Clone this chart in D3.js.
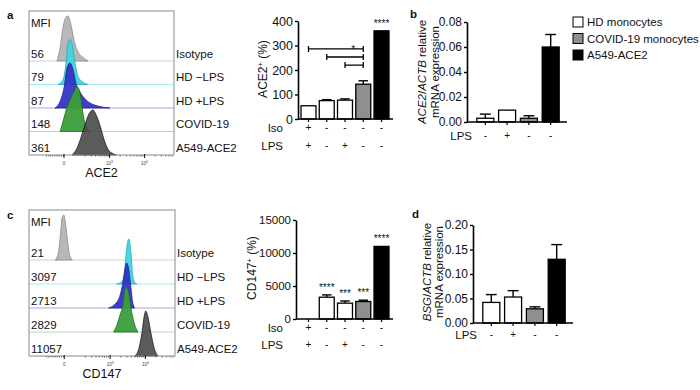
<!DOCTYPE html>
<html>
<head>
<meta charset="utf-8">
<script src="https://cdn.jsdelivr.net/npm/d3@7"></script>
<style>
  body { margin: 0; background: #fff; }
  svg { display: block; font-family: "Liberation Sans", Arial, sans-serif; }
</style>
</head>
<body>
<svg id="fig" width="700" height="390"></svg>
<script>
/* ---- data ---- */
const rowNames = ["Isotype", "HD \u2212LPS", "HD +LPS", "COVID-19", "A549-ACE2"];
const mfiACE2 = ["56", "79", "87", "148", "361"];
const mfiCD147 = ["21", "3097", "2713", "2829", "11057"];

// flow histograms: [display position, % of mode]; 0 / 10^3 / 10^4 at 0 / 1.3 / 2.3
const histDomain = [-1, 3.14];
const histTickVals = [0, 1.3, 2.3];
const histTickExp = ["", "3", "4"];

const ace2Iso   = [[-0.20,0],[-0.11,30],[-0.03,75],[0.06,98],[0.11,100],[0.20,80],[0.29,45],[0.40,20],[0.54,8],[0.69,0]];
const ace2HdNeg = [[-0.17,0],[-0.03,10],[0.06,50],[0.11,90],[0.17,100],[0.23,90],[0.29,60],[0.37,25],[0.49,8],[0.69,0]];
const ace2HdPos = [[-0.26,0],[-0.11,15],[0,45],[0.09,90],[0.17,100],[0.26,85],[0.34,55],[0.46,35],[0.63,18],[0.89,6],[1.31,0]];
const ace2Covid = [[-0.11,0],[-0.03,22],[0.09,55],[0.17,70],[0.29,90],[0.37,100],[0.46,85],[0.54,40],[0.63,10],[0.74,0]];
const ace2A549  = [[0.23,0],[0.37,15],[0.51,45],[0.63,75],[0.74,95],[0.83,100],[0.91,90],[1.03,65],[1.14,35],[1.26,12],[1.40,3],[1.49,0]];

const cd147Iso   = [[-0.26,0],[-0.17,15],[-0.11,55],[-0.06,95],[-0.01,100],[0.03,85],[0.09,45],[0.14,15],[0.23,0]];
const cd147HdNeg = [[1.49,0],[1.60,3],[1.69,15],[1.74,55],[1.80,95],[1.83,100],[1.89,70],[1.94,20],[2.00,3],[2.06,0]];
const cd147HdPos = [[1.26,0],[1.43,8],[1.57,25],[1.66,55],[1.73,90],[1.77,100],[1.83,85],[1.89,45],[1.94,12],[2.00,0]];
const cd147Covid = [[1.40,0],[1.49,15],[1.57,35],[1.66,60],[1.71,90],[1.77,100],[1.83,85],[1.91,45],[2.00,15],[2.09,0]];
const cd147A549  = [[2.00,0],[2.11,15],[2.20,50],[2.27,90],[2.31,100],[2.37,88],[2.46,50],[2.54,20],[2.66,0]];

// bar charts
const isoSigns5 = ["+", "-", "-", "-", "-"];
const lpsSigns5 = ["+", "-", "+", "-", "-"];
const lpsSigns4 = ["-", "+", "-", "-"];
const groups5 = ["hd", "hd", "hd", "covid", "a549"];
const groups4 = ["hd", "hd", "covid", "a549"];

const ace2Pct = [54, 75, 77, 142, 360];
const ace2PctSem = [0, 4, 5, 14, 0];
const ace2PctSig = ["", "", "", "", "****"];
const bracketFrom = [0, 1, 2];
const bracketTo = [3, 3, 3];
const bracketLevel = [286, 253, 220];
const bracketLabel = ["*", "", ""];

const cd147Pct = [0, 3300, 2400, 2650, 11000];
const cd147PctSem = [0, 350, 330, 200, 0];
const cd147PctSig = ["", "****", "***", "***", "****"];

const ace2mRNA = [0.003, 0.0095, 0.003, 0.060];
const ace2mRNASem = [0.0033, 0, 0.002, 0.010];
const bsgmRNA = [0.042, 0.053, 0.029, 0.130];
const bsgmRNASem = [0.016, 0.013, 0.004, 0.030];

const legendNames = ["HD monocytes", "COVID-19 monocytes", "A549-ACE2"];
const legendGroups = ["hd", "covid", "a549"];

/* ---- style ---- */
const FONT = '"Liberation Sans", Arial, sans-serif';
const histFill = ["#b4b4b4", "#3fd6df", "#3434c4", "#3a9e3a", "#444444"];
const histStroke = ["#8c8c8c", "#22a9b6", "#1f1f8f", "#1f6b1f", "#1e1e1e"];
const histLine = ["#d2d2d2", "#a6ecf0", "#a9a9dc", "#b4dcb4"];
const groupFill = { hd: "#ffffff", covid: "#8f8f8f", a549: "#000000" };

const svg = d3.select("#fig");

function txt(g, x, y, s, size, anchor) {
  return g.append("text").attr("x", x).attr("y", y).attr("font-size", size)
    .attr("font-family", FONT).attr("text-anchor", anchor || "start").attr("fill", "#111").text(s);
}

/* 流式直方圖 */
function histPanel(o) {
  const g = svg.append("g");
  const x = d3.scaleLinear().domain(histDomain).range([o.x0, o.x1]);
  const n = o.curves.length, step = (o.y1 - o.y0 - 50) / (n - 1);
  const h = d3.scaleLinear().domain([0, 100]).range([0, 45]);
  const area = d3.area().x(d => x(d[0])).y0(0).y1(d => -h(d[1])).curve(d3.curveMonotoneX);

  g.append("rect").attr("x", o.x0).attr("y", o.y0).attr("width", o.x1 - o.x0).attr("height", o.y1 - o.y0)
    .attr("fill", "#fff");
  txt(g, o.x0 + 2, o.y0 + 16, "MFI", 11.5);
  o.curves.forEach((pts, i) => {
    const by = o.y1 - (n - 1 - i) * step;
    const row = g.append("g").attr("transform", `translate(0,${by})`);
    if (i < n - 1) row.append("line").attr("x1", o.x0).attr("x2", o.x1)
      .attr("stroke", histLine[i]).attr("stroke-width", 1);
    row.append("path").attr("d", area(pts)).attr("fill", histFill[i])
      .attr("fill-opacity", i === n - 1 ? 0.88 : 0.95)
      .attr("stroke", histStroke[i]).attr("stroke-width", 0.8);
    txt(g, o.x0 + 2, by - 3.5, o.mfi[i], 11.5);
    txt(g, o.x1 + 2, by - 3.5, rowNames[i], 11.5);
  });
  g.append("rect").attr("x", o.x0).attr("y", o.y0).attr("width", o.x1 - o.x0).attr("height", o.y1 - o.y0)
    .attr("fill", "none").attr("stroke", "#8a8a8a");

  // 底部刻度
  const minor = [];
  for (let v = -0.5; v < 0; v += 0.06) minor.push(v);
  for (let k = 2; k <= 9; k++) minor.push(0.3 + Math.log10(k), 1.3 + Math.log10(k), 2.3 + Math.log10(k));
  g.append("g").selectAll("line").data(minor.filter(v => v > histDomain[0] && v < histDomain[1])).join("line")
    .attr("x1", d => x(d)).attr("x2", d => x(d)).attr("y1", o.y1).attr("y2", o.y1 + 1.6)
    .attr("stroke", "#333").attr("stroke-width", 0.6);
  g.append("g").selectAll("line").data(histTickVals).join("line")
    .attr("x1", d => x(d)).attr("x2", d => x(d)).attr("y1", o.y1 - 1).attr("y2", o.y1 + 3)
    .attr("stroke", "#111").attr("stroke-width", 1);
  histTickVals.forEach((v, i) => {
    const t = txt(g, x(v), o.y1 + 10, i === 0 ? "0" : "10", 4.5, "middle").attr("fill", "#444");
    if (histTickExp[i]) t.append("tspan").attr("dy", -1.8).attr("font-size", 3.5).text(histTickExp[i]);
  });
  txt(g, (o.x0 + o.x1) / 2, o.y1 + 22, o.marker, 12.5, "middle");
}

/* GraphPad 風格長條圖 */
function barPanel(o) {
  const g = svg.append("g");
  const y = d3.scaleLinear().domain([0, o.max]).range([o.yBase, o.yTop]);
  const x = d3.scaleBand().domain(d3.range(o.values.length)).range(o.band)
    .paddingInner(o.pi).paddingOuter(o.po);
  const bw = x.bandwidth(), cx = i => x(i) + bw / 2;

  // 誤差線
  o.values.forEach((v, i) => {
    const s = o.sem[i]; if (!s) return;
    g.append("line").attr("x1", cx(i)).attr("x2", cx(i)).attr("y1", y(v)).attr("y2", y(v + s))
      .attr("stroke", "#000").attr("stroke-width", 1.4);
    g.append("line").attr("x1", cx(i) - bw * 0.32).attr("x2", cx(i) + bw * 0.32)
      .attr("y1", y(v + s)).attr("y2", y(v + s)).attr("stroke", "#000").attr("stroke-width", 1.4);
  });
  g.append("g").selectAll("rect").data(o.values).join("rect")
    .attr("x", (v, i) => x(i)).attr("width", bw)
    .attr("y", v => y(v)).attr("height", v => y(0) - y(v))
    .attr("fill", (v, i) => groupFill[o.groups[i]]).attr("stroke", "#000").attr("stroke-width", 1.3);

  // 軸
  const ay = g.append("g").attr("transform", `translate(${o.axisX},0)`)
    .call(d3.axisLeft(y).tickValues(o.ticks).tickFormat(o.fmt).tickSize(3).tickSizeOuter(0).tickPadding(2));
  ay.attr("font-family", FONT).attr("font-size", o.tickFont || 11.5);
  ay.select(".domain").attr("stroke-width", 1.6);
  ay.selectAll(".tick line").attr("stroke-width", 1.4);
  ay.selectAll("text").attr("fill", "#111");
  g.append("line").attr("x1", o.axisX).attr("x2", o.axisEnd).attr("y1", y(0)).attr("y2", y(0))
    .attr("stroke", "#000").attr("stroke-width", 1.6);
  g.append("g").selectAll("line").data(o.values).join("line")
    .attr("x1", (v, i) => cx(i)).attr("x2", (v, i) => cx(i)).attr("y1", y(0)).attr("y2", y(0) + 3)
    .attr("stroke", "#000").attr("stroke-width", 1.2);

  // 顯著性
  (o.sig || []).forEach((s, i) => {
    if (!s) return;
    txt(g, cx(i), y(o.values[i] + o.sem[i]) - 4, s, 10, "middle");
  });
  (o.brackets || []).forEach(b => {
    const yy = y(b.level), xa = cx(b.from), xb = cx(b.to);
    g.append("path").attr("d", `M${xa},${yy - 3}V${yy + 3}M${xa},${yy}H${xb}M${xb},${yy - 3}V${yy + 3}`)
      .attr("fill", "none").attr("stroke", "#000").attr("stroke-width", 1.3);
    if (b.label) txt(g, xb - 10, yy + 4, b.label, 10, "middle");
  });

  // 條件列
  o.rows.forEach(r => {
    txt(g, o.rowLabelX, r.y, r.label, 11.5, "end");
    r.signs.forEach((s, i) => txt(g, cx(i), r.y - 1, s, 10, "middle"));
  });

  // y 標題
  o.title.forEach(line => {
    const t = g.append("text").attr("transform", `translate(${line.x},${o.titleY}) rotate(-90)`)
      .attr("text-anchor", "middle").attr("font-size", o.titleFont || 11.5).attr("font-family", FONT).attr("fill", "#111");
    line.parts.forEach(p => {
      const s = t.append("tspan").text(p.t);
      if (p.i) s.attr("font-style", "italic");
      if (p.sup) s.attr("baseline-shift", "super").attr("font-size", 7.5);
    });
  });
}

/* ---- panels ---- */
histPanel({ x0: 29, x1: 174, y0: 11, y1: 155, marker: "ACE2", mfi: mfiACE2,
  curves: [ace2Iso, ace2HdNeg, ace2HdPos, ace2Covid, ace2A549] });
histPanel({ x0: 29, x1: 175, y0: 210, y1: 356, marker: "CD147", mfi: mfiCD147,
  curves: [cd147Iso, cd147HdNeg, cd147HdPos, cd147Covid, cd147A549] });

barPanel({ values: ace2Pct, sem: ace2PctSem, groups: groups5, max: 400, yBase: 119, yTop: 21,
  ticks: [0, 100, 200, 300, 400], fmt: d3.format("d"), tickFont: 12.5, titleFont: 12,
  band: [299, 391], pi: 0.18, po: 0.11, axisX: 298, axisEnd: 393, sig: ace2PctSig,
  brackets: bracketFrom.map((f, i) => ({ from: f, to: bracketTo[i], level: bracketLevel[i], label: bracketLabel[i] })),
  rowLabelX: 283, rows: [{ label: "Iso", signs: isoSigns5, y: 132 }, { label: "LPS", signs: lpsSigns5, y: 150 }],
  titleY: 69, title: [{ x: 267, parts: [{ t: "ACE2" }, { t: "+", sup: true }, { t: " (%)" }] }] });

barPanel({ values: cd147Pct, sem: cd147PctSem, groups: groups5, max: 15000, yBase: 319, yTop: 220,
  ticks: [0, 5000, 10000, 15000], fmt: d3.format("d"), titleFont: 12,
  band: [299, 391], pi: 0.18, po: 0.11, axisX: 296, axisEnd: 393, sig: cd147PctSig,
  rowLabelX: 283, rows: [{ label: "Iso", signs: isoSigns5, y: 332 }, { label: "LPS", signs: lpsSigns5, y: 349 }],
  titleY: 268, title: [{ x: 256, parts: [{ t: "CD147" }, { t: "+", sup: true }, { t: " (%)" }] }] });

barPanel({ values: ace2mRNA, sem: ace2mRNASem, groups: groups4, max: 0.08, yBase: 122, yTop: 22,
  ticks: [0, 0.02, 0.04, 0.06, 0.08], fmt: d3.format(".2f"), tickFont: 12,
  band: [467, 569], pi: 0.22, po: 0.45, axisX: 467, axisEnd: 567,
  rowLabelX: 472, rows: [{ label: "LPS", signs: lpsSigns4, y: 140 }],
  titleY: 72, title: [
    { x: 426, parts: [{ t: "ACE2", i: true }, { t: "/" }, { t: "ACTB", i: true }, { t: " relative" }] },
    { x: 439, parts: [{ t: "mRNA expression" }] }] });

barPanel({ values: bsgmRNA, sem: bsgmRNASem, groups: groups4, max: 0.2, yBase: 323, yTop: 225,
  ticks: [0, 0.05, 0.10, 0.15, 0.20], fmt: d3.format(".2f"), tickFont: 12,
  band: [473, 575], pi: 0.22, po: 0.45, axisX: 473, axisEnd: 573,
  rowLabelX: 477, rows: [{ label: "LPS", signs: lpsSigns4, y: 339 }],
  titleY: 272, title: [
    { x: 431, parts: [{ t: "BSG", i: true }, { t: "/" }, { t: "ACTB", i: true }, { t: " relative" }] },
    { x: 443, parts: [{ t: "mRNA expression" }] }] });

// 圖例
const lg = svg.append("g");
legendNames.forEach((name, i) => {
  lg.append("rect").attr("x", 573).attr("y", 17 + i * 16.5).attr("width", 10).attr("height", 10)
    .attr("fill", groupFill[legendGroups[i]]).attr("stroke", "#000").attr("stroke-width", 1);
  txt(lg, 587, 26 + i * 16.5, name, 11.5);
});

// 面板字母
[["a", 7, 19], ["b", 410, 18], ["c", 7, 219], ["d", 412, 218]].forEach(([s, x, y]) =>
  txt(svg, x, y, s, 11.5).attr("font-weight", "bold"));
</script>
</body>
</html>
